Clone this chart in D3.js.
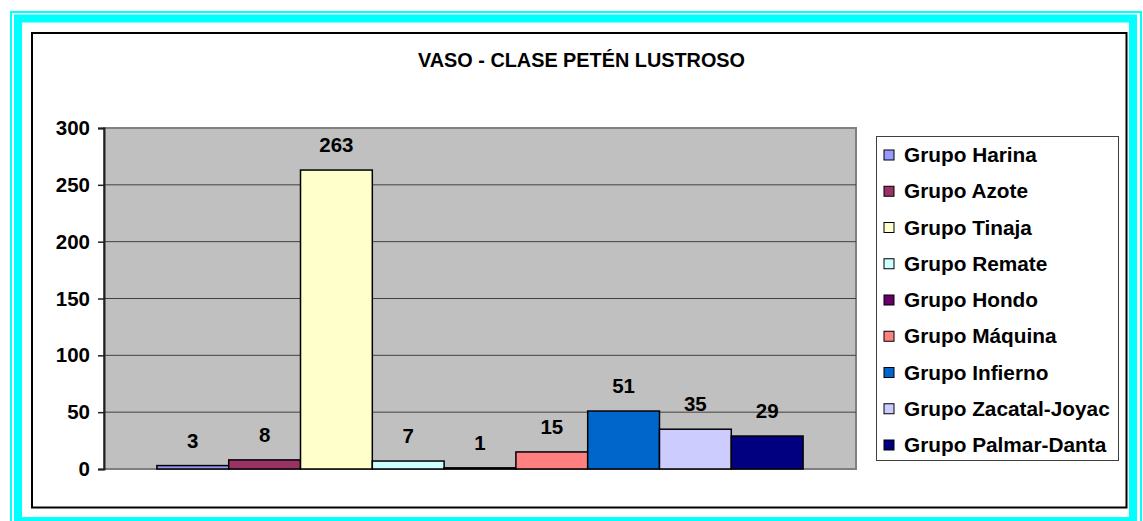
<!DOCTYPE html>
<html>
<head>
<meta charset="utf-8">
<script src="https://cdn.jsdelivr.net/npm/d3@7"></script>
<style>
  body { margin: 0; background: #fff; }
  text { font-family: "Liberation Sans", Arial, sans-serif; font-weight: bold; fill: #000; }
</style>
</head>
<body>
<div id="chart"></div>
<script>
// data
const title = "VASO - CLASE PETÉN LUSTROSO";
const groups = ["Grupo Harina", "Grupo Azote", "Grupo Tinaja", "Grupo Remate", "Grupo Hondo",
                "Grupo Máquina", "Grupo Infierno", "Grupo Zacatal-Joyac", "Grupo Palmar-Danta"];
const values = [3, 8, 263, 7, 1, 15, 51, 35, 29];
const colors = ["#9999FF", "#993366", "#FFFFCC", "#CCFFFF", "#660066",
                "#FF8080", "#0066CC", "#CCCCFF", "#000080"];
const yTicks = [0, 50, 100, 150, 200, 250, 300];

const W = 1143, H = 521;
const plot = {left: 104, right: 856, top: 128, bottom: 469};

const svg = d3.select("#chart")
              .append("svg")
              .attr("width", W)
              .attr("height", H);

// cyan frames + black chart border
svg.append("rect")
   .attr("x", 11).attr("y", 12)
   .attr("width", 1130).attr("height", 520)
   .attr("fill", "none").attr("stroke", "#00FFFF").attr("stroke-width", 2);
svg.append("rect")
   .attr("x", 18).attr("y", 18.5)
   .attr("width", 1115).attr("height", 502.5)
   .attr("fill", "none").attr("stroke", "#00FFFF").attr("stroke-width", 8);
svg.append("rect")
   .attr("x", 32).attr("y", 33)
   .attr("width", 1094.5).attr("height", 474.5)
   .attr("fill", "#fff").attr("stroke", "#000").attr("stroke-width", 2);

// title
svg.append("text")
   .attr("x", 581.5).attr("y", 67)
   .attr("text-anchor", "middle")
   .attr("font-size", 20)
   .attr("textLength", 327)
   .attr("lengthAdjust", "spacingAndGlyphs")
   .text(title);

// scales
const xScale = d3.scaleBand()
                 .domain(groups)
                 .range([plot.left, plot.right])
                 .paddingInner(0)
                 .paddingOuter(0.737);

const yScale = d3.scaleLinear()
                 .domain([0, 300])
                 .range([plot.bottom, plot.top]);

// plot area
svg.append("rect")
   .attr("x", plot.left).attr("y", plot.top)
   .attr("width", plot.right - plot.left).attr("height", plot.bottom - plot.top)
   .attr("fill", "#C0C0C0").attr("stroke", "#808080").attr("stroke-width", 2);

// gridlines
svg.selectAll(".grid")
   .data(yTicks.filter(d => d > 0 && d < 300))
   .enter()
   .append("line")
   .attr("class", "grid")
   .attr("x1", plot.left).attr("x2", plot.right)
   .attr("y1", d => yScale(d)).attr("y2", d => yScale(d))
   .attr("stroke", "#404040").attr("stroke-width", 1);

// y axis
const yAxis = d3.axisLeft(yScale)
                .tickValues(yTicks)
                .tickSize(6)
                .tickPadding(8);

const gy = svg.append("g")
              .attr("class", "y-axis")
              .attr("transform", "translate(" + plot.left + ",0)")
              .call(yAxis);
gy.select(".domain").attr("stroke", "#202020").attr("stroke-width", 2);
gy.selectAll(".tick line").attr("stroke", "#202020").attr("stroke-width", 1.5);
gy.selectAll(".tick text")
  .attr("font-size", 20.5)
  .attr("font-family", "Liberation Sans, Arial, sans-serif")
  .attr("font-weight", "bold")
  .attr("fill", "#000");

// bars
svg.selectAll(".bar")
   .data(values)
   .enter()
   .append("rect")
   .attr("class", "bar")
   .attr("x", (d, i) => xScale(groups[i]))
   .attr("y", d => yScale(d))
   .attr("width", xScale.bandwidth())
   .attr("height", d => yScale(0) - yScale(d))
   .attr("fill", (d, i) => colors[i])
   .attr("stroke", "#000")
   .attr("stroke-width", 1.5);

// value labels
svg.selectAll(".label")
   .data(values)
   .enter()
   .append("text")
   .attr("class", "label")
   .attr("x", (d, i) => xScale(groups[i]) + xScale.bandwidth() / 2)
   .attr("y", d => yScale(d) - 18)
   .attr("text-anchor", "middle")
   .attr("font-size", 20.5)
   .text(d => d);

// legend
const legend = svg.append("g").attr("class", "legend");
legend.append("rect")
      .attr("x", 876.5).attr("y", 136.5)
      .attr("width", 242).attr("height", 324)
      .attr("fill", "#fff").attr("stroke", "#404040").attr("stroke-width", 1);

const rowY = d3.scalePoint()
               .domain(groups)
               .range([155, 445]);

const items = legend.selectAll(".item")
                    .data(groups)
                    .enter()
                    .append("g")
                    .attr("class", "item")
                    .attr("transform", d => "translate(0," + rowY(d) + ")");
items.append("rect")
     .attr("x", 884).attr("y", -5)
     .attr("width", 10).attr("height", 10)
     .attr("fill", (d, i) => colors[i])
     .attr("stroke", "#000").attr("stroke-width", 1);
items.append("text")
     .attr("x", 904).attr("y", 7)
     .attr("font-size", 20.8)
     .text(d => d);
</script>
</body>
</html>
